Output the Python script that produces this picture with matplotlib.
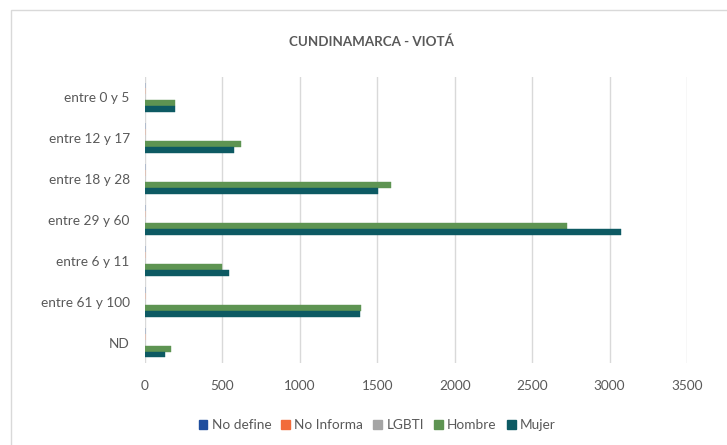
import matplotlib
matplotlib.use("Agg")
import matplotlib.pyplot as plt
import numpy as np
from matplotlib.patches import Rectangle, Patch

plt.rcParams['font.family'] = ['Lato', 'DejaVu Sans']

categories = ["entre 0 y 5", "entre 12 y 17", "entre 18 y 28", "entre 29 y 60",
              "entre 6 y 11", "entre 61 y 100", "ND"]
series_names = ["No define", "No Informa", "LGBTI", "Hombre", "Mujer"]
no_define = [0, 0, 0, 0, 0, 0, 0]
no_informa = [0, 0, 0, 0, 0, 0, 0]
lgbti = [0, 0, 0, 0, 0, 0, 0]
hombre = [195, 620, 1586, 2725, 496, 1397, 165]
mujer = [193, 575, 1506, 3071, 541, 1388, 131]
colors = ["#1F4E9E", "#F26B3A", "#A5A5A5", "#5E9452", "#0D5A63"]
xticks = [0, 500, 1000, 1500, 2000, 2500, 3000, 3500]

W, H = 727, 445
fig = plt.figure(figsize=(W / 100, H / 100), dpi=100)
fig.patches.append(Rectangle((11 / W, -0.1), 1.2, 1 - 10 / H + 0.1, transform=fig.transFigure,
                             fill=False, edgecolor="#D9D9D9", linewidth=1.0))

ax = fig.add_axes([145 / W, 1 - 363 / H, (687 - 145) / W, (363 - 77) / H])
y = np.arange(len(categories))
h = 0.146
all_series = [no_define, no_informa, lgbti, hombre, mujer]
for i, (vals, c) in enumerate(zip(all_series, colors)):
    ax.barh(y + (i - 2) * h, vals, height=h, color=c, edgecolor=c, linewidth=0.3, zorder=3)

ax.set_ylim(len(categories) - 0.5, -0.5)
ax.set_xlim(0, 3500)
ax.set_xticks(xticks)
ax.set_xticklabels([str(t) for t in xticks])
ax.set_yticks(y)
ax.set_yticklabels(categories)
ax.tick_params(axis='both', length=0, labelsize=9.8, colors="#595959")
ax.tick_params(axis='y', pad=11)
ax.tick_params(axis='x', pad=12)
ax.grid(axis='x', color="#D9D9D9", linewidth=1.0, zorder=0)
for s in ax.spines.values():
    s.set_visible(False)

fig.text(371 / W, 1 - 42 / H, "CUNDINAMARCA - VIOTÁ", ha='center', va='center',
         fontsize=9.6, fontweight='bold', color="#595959")

handles = [Patch(facecolor=c, edgecolor=c) for c in colors]
fig.legend(handles, series_names, loc='center', bbox_to_anchor=(377 / W, 1 - 425 / H),
           ncol=5, frameon=False, fontsize=9.8, handlelength=0.65, handleheight=0.65,
           handletextpad=0.3, columnspacing=0.75, labelcolor="#595959")

fig.savefig("out.png", dpi=100)
